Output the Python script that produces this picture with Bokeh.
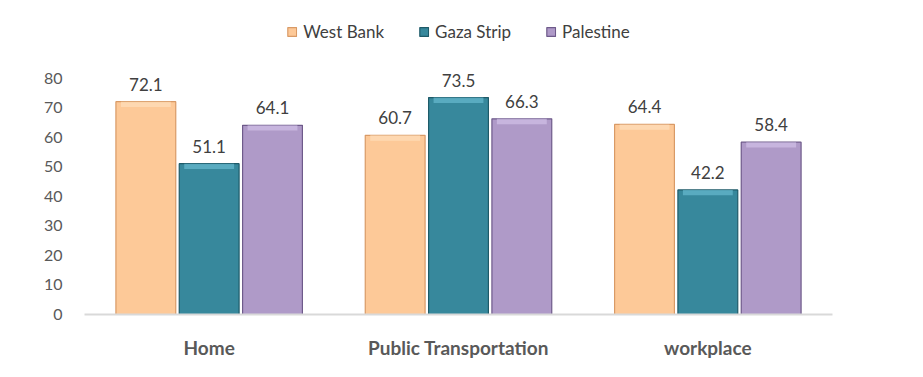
from bokeh.plotting import figure
from bokeh.models import ColumnDataSource, FactorRange, Legend, LegendItem, FixedTicker, LabelSet
from bokeh.transform import dodge
from bokeh.core.properties import value
from bokeh.embed import file_html
from bokeh.resources import INLINE

categories = ["Home", "Public Transportation", "workplace"]
series_names = ["West Bank", "Gaza Strip", "Palestine"]
west_bank = [72.1, 60.7, 64.4]
gaza_strip = [51.1, 73.5, 42.2]
palestine = [64.1, 66.3, 58.4]
y_ticks = [0, 10, 20, 30, 40, 50, 60, 70, 80]

fills = ["#FDC998", "#37889C", "#AF9AC8"]
edges = ["#D99A66", "#1E5A68", "#6E5A8A"]
tops = ["#FFE2C2", "#6FC3D8", "#D7C8EC"]
offsets = [-0.254, 0.0, 0.254]
FONT = "Lato"

p = figure(x_range=FactorRange(*categories), y_range=(0, 103),
           width=923, height=377, output_backend="svg", toolbar_location=None,
           min_border_left=84, min_border_right=91, min_border_top=10, min_border_bottom=63)
p.outline_line_color = None
p.xgrid.visible = False
p.ygrid.visible = False
p.background_fill_color = "white"
p.border_fill_color = "white"

items = []
for name, vals, f, e, t, off in zip(series_names, [west_bank, gaza_strip, palestine], fills, edges, tops, offsets):
    src = ColumnDataSource(dict(cat=categories, val=vals,
                                top_lo=[v - 1.8 for v in vals],
                                lbl=[f"{v:.1f}" for v in vals]))
    r = p.vbar(x=dodge("cat", off, range=p.x_range), top="val", bottom=0, width=0.24,
               source=src, fill_color=f, line_color=e, line_width=1.2)
    p.vbar(x=dodge("cat", off, range=p.x_range), top="val", bottom="top_lo", width=0.20,
           source=src, fill_color=t, line_color=None, fill_alpha=0.6)
    labels = LabelSet(x=dodge("cat", off, range=p.x_range), y="val", text="lbl", source=src,
                      text_align="center", text_baseline="bottom", y_offset=11,
                      text_font_size="17px", text_color="#404040", text_font=value(FONT))
    p.add_layout(labels)
    items.append(LegendItem(label=name, renderers=[r]))

legend = Legend(items=items, orientation="horizontal", location="top_center",
                label_text_font_size="17px", label_text_color="#404040", label_text_font=FONT,
                glyph_width=11, glyph_height=11, spacing=34, label_standoff=6,
                border_line_color=None, background_fill_alpha=0, padding=2, margin=11)
p.add_layout(legend, "center")

p.yaxis.ticker = FixedTicker(ticks=y_ticks)
p.yaxis.axis_line_color = None
p.yaxis.major_tick_line_color = None
p.yaxis.minor_tick_line_color = None
p.yaxis.major_label_text_font_size = "16px"
p.yaxis.major_label_text_color = "#595959"
p.yaxis.major_label_text_font = FONT
p.yaxis.major_label_standoff = 16

p.xaxis.axis_line_color = "#D9D9D9"
p.xaxis.axis_line_width = 2
p.xaxis.major_tick_line_color = None
p.xaxis.minor_tick_line_color = None
p.xaxis.major_label_text_font_size = "19px"
p.xaxis.major_label_text_font_style = "bold"
p.xaxis.major_label_text_color = "#595959"
p.xaxis.major_label_text_font = FONT
p.xaxis.major_label_standoff = 15

open("out.html", "w").write(file_html(p, INLINE))
